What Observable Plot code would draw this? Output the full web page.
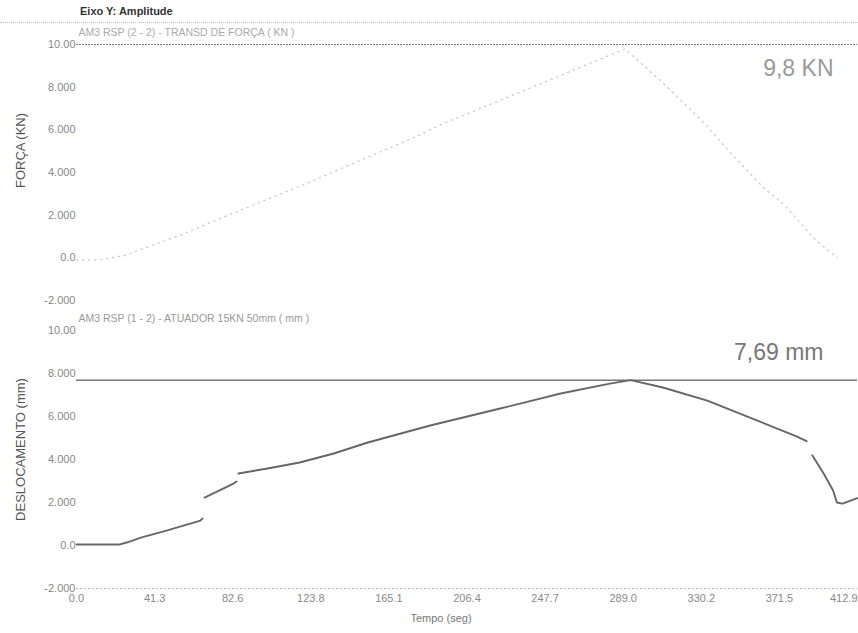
<!DOCTYPE html>
<html>
<head>
<meta charset="utf-8">
<script src="https://cdn.jsdelivr.net/npm/d3@7"></script>
<script src="https://cdn.jsdelivr.net/npm/@observablehq/plot@0.6"></script>
<style>
  html, body { margin: 0; padding: 0; background: #fff; }
  #wrap { width: 858px; height: 633px; position: relative; overflow: hidden; font-family: "Liberation Sans", Arial, sans-serif; }
  #hdr { height: 22px; border-bottom: 1px dotted #bbb; position: relative; }
  #hdr span { position: absolute; left: 80px; top: 5px; font-size: 11px; font-weight: bold; color: #333; }
  svg { display: block; }
</style>
</head>
<body>
<div id="wrap"><div id="hdr"><span>Eixo Y: Amplitude</span></div></div>
<script>
// ---- data ----
const forceTime = [0, 12, 25, 56, 83, 122, 143, 180, 194, 230, 260, 290, 310, 331, 347, 363, 374, 390, 402];
const forceKN   = [-0.1, -0.1, 0.1, 1.1, 2.1, 3.5, 4.3, 5.7, 6.3, 7.6, 8.7, 9.8, 8.2, 6.4, 4.8, 3.3, 2.5, 0.9, 0.0];

const dispTime = [0, 12, 23, 27, 34, 48, 65.5, 66.6, 67.2, 67.7, 83, 84.6, 85.1, 85.6, 101, 118, 136, 154, 187, 224, 256, 282, 293, 310, 333.5, 360, 380, 386, 387.5, 389, 395, 400, 402, 405, 412.8];
const dispMM   = [0.05, 0.05, 0.05, 0.15, 0.37, 0.7, 1.16, 1.25, null, 2.23, 2.88, 2.98, null, 3.35, 3.58, 3.86, 4.28, 4.79, 5.58, 6.37, 7.07, 7.53, 7.69, 7.35, 6.74, 5.81, 5.1, 4.85, null, 4.2, 3.35, 2.56, 2.0, 1.95, 2.2];

const yTicks = [-2, 0, 2, 4, 6, 8, 10];
const yTickLabels = ["-2.000", "0.0", "2.000", "4.000", "6.000", "8.000", "10.00"];
const xTicks = [0, 41.29, 82.58, 123.87, 165.16, 206.45, 247.74, 289.03, 330.32, 371.61];
const xTickLabels = ["0.0", "41.3", "82.6", "123.8", "165.1", "206.4", "247.7", "289.0", "330.2", "371.5"];
const xLastTick = 412.9;
const xLastLabel = "412.9";

const forceSeriesName = "AM3 RSP (2 - 2) - TRANSD DE FORÇA ( KN )";
const dispSeriesName = "AM3 RSP (1 - 2) - ATUADOR 15KN 50mm ( mm )";
const forceAxisTitle = "FORÇA (KN)";
const dispAxisTitle = "DESLOCAMENTO (mm)";
const xAxisTitle = "Tempo (seg)";
const peakForceLabel = "9,8 KN";
const peakDisp = 7.69, peakDispLabel = "7,69 mm";

const forceData = forceTime.map((t, i) => ({t, v: forceKN[i]}));
const dispData = dispTime.map((t, i) => ({t, v: dispMM[i]}));

const tickFmt = d => yTickLabels[yTicks.indexOf(d)];
const tickFont = {fontSize: 11, fontFamily: "'Liberation Sans Narrow', 'Liberation Sans', Arial", fill: "#888"};

const common = {
  width: 858,
  marginLeft: 76,
  marginRight: 1,
  x: {domain: [0, xLastTick], axis: null},
  y: {domain: [-2, 10], axis: null},
  style: {fontFamily: "'Liberation Sans', Arial, sans-serif", background: "#fff", overflow: "visible"}
};

const forcePlot = Plot.plot({
  ...common,
  height: 287,
  marginTop: 21,
  marginBottom: 10,
  marks: [
    Plot.axisY({ticks: yTicks, tickFormat: tickFmt, tickSize: 0, tickPadding: 1, ...tickFont, label: null}),
    Plot.ruleY([10], {stroke: "#777", strokeDasharray: "2,1", strokeWidth: 1}),
    Plot.line(forceData, {x: "t", y: "v", stroke: "#c8c8c8", strokeWidth: 1.2, strokeDasharray: "1.5,4.5"}),
    Plot.text([forceSeriesName], {frameAnchor: "top-left", text: d => d, dx: 2, dy: -12, textAnchor: "start", lineAnchor: "middle", fontSize: 10.5, fill: "#aaa"}),
    Plot.text([forceAxisTitle], {frameAnchor: "left", text: d => d, rotate: -90, dx: -56, dy: -22, fontSize: 13, fill: "#555", textAnchor: "middle", lineAnchor: "middle"}),
    Plot.text([peakForceLabel], {frameAnchor: "top-right", text: d => d, dx: -24, dy: 24, fontSize: 23, fill: "#999", textAnchor: "end", lineAnchor: "middle"})
  ]
});

const dispPlot = Plot.plot({
  ...common,
  height: 323,
  marginTop: 20,
  marginBottom: 45,
  marks: [
    Plot.axisY({ticks: yTicks, tickFormat: tickFmt, tickSize: 0, tickPadding: 1, ...tickFont, label: null}),
    Plot.axisX({ticks: xTicks, tickFormat: (d, i) => xTickLabels[i], tickSize: 0, tickPadding: 6, ...tickFont, label: null}),
    Plot.axisX({ticks: [xLastTick], tickFormat: () => xLastLabel, tickSize: 0, tickPadding: 6, textAnchor: "end", ...tickFont, label: null}),
    Plot.ruleY([-2], {stroke: "#bbb", strokeDasharray: "2,2", strokeWidth: 1}),
    Plot.ruleY([peakDisp], {stroke: "#777", strokeWidth: 1.5}),
    Plot.line(dispData, {x: "t", y: "v", stroke: "#666", strokeWidth: 1.9, defined: d => d.v != null}),
    Plot.text([dispSeriesName], {frameAnchor: "top-left", text: d => d, dx: 2, dy: -12, textAnchor: "start", lineAnchor: "middle", fontSize: 10.5, fill: "#999"}),
    Plot.text([dispAxisTitle], {frameAnchor: "left", text: d => d, rotate: -90, dx: -56, dy: -10, fontSize: 13, fill: "#555", textAnchor: "middle", lineAnchor: "middle"}),
    Plot.text([xAxisTitle], {frameAnchor: "bottom", text: d => d, dx: -26, dy: 30, fontSize: 11, fill: "#777", lineAnchor: "middle"}),
    Plot.text([peakDispLabel], {frameAnchor: "top-right", text: d => d, dx: -34, dy: 22, fontSize: 23, fill: "#777", textAnchor: "end", lineAnchor: "middle"})
  ]
});

const wrap = document.getElementById("wrap");
wrap.appendChild(forcePlot);
wrap.appendChild(dispPlot);
</script>
</body>
</html>
